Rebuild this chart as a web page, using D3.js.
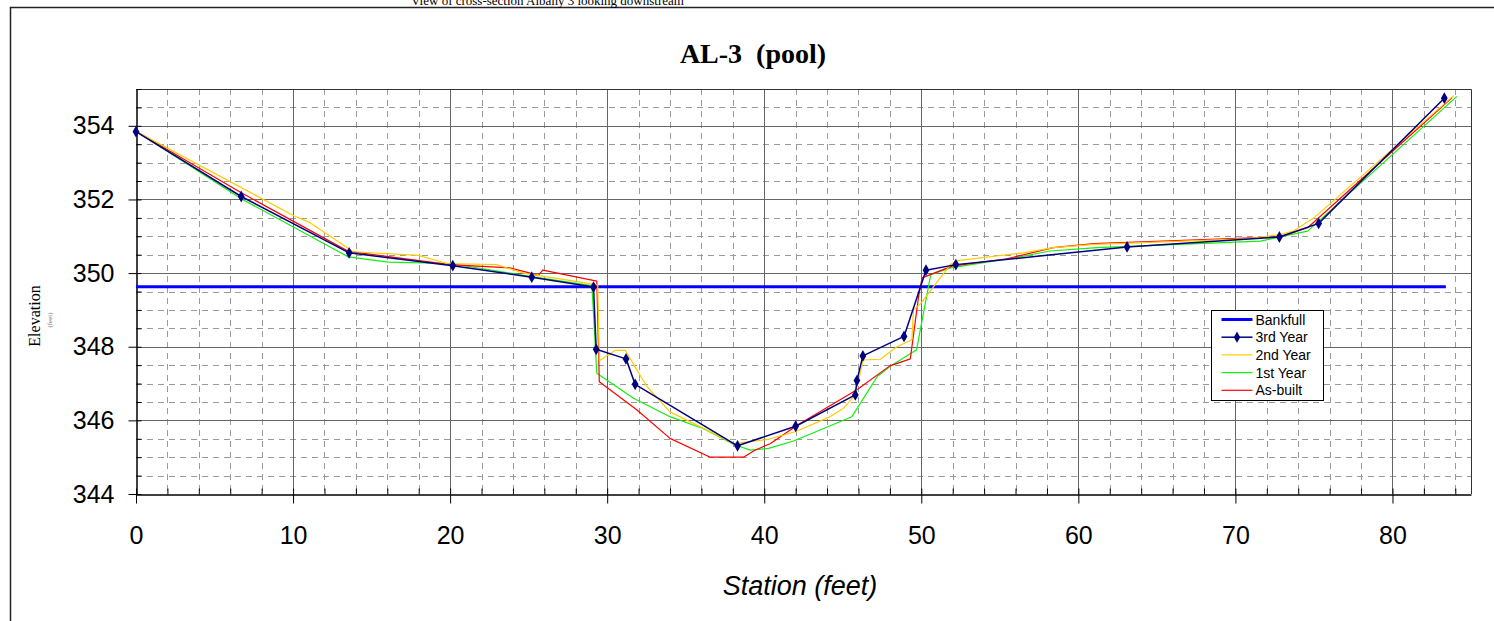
<!DOCTYPE html>
<html lang="en">
<head>
<meta charset="UTF-8">
<title>AL-3 (pool)</title>
<script src="https://cdn.jsdelivr.net/npm/d3@7"></script>
<style>
  body { margin: 0; background: #fff; }
  svg { display: block; }
</style>
</head>
<body>
<div id="chart"></div>
<script>
const bankfullX = [0, 83.4];
const bankfullY = [349.63, 349.63];

const thirdX = [0, 6.7, 13.57, 20.17, 25.2, 29.13, 29.3, 31.2, 31.78, 38.3, 42.0, 45.8, 45.9, 46.28, 48.9, 50.3, 52.2, 63.1, 72.8, 75.3, 83.3];
const thirdY = [353.84, 352.08, 350.55, 350.2, 349.89, 349.62, 347.93, 347.67, 346.98, 345.31, 345.84, 346.69, 347.08, 347.75, 348.28, 350.08, 350.23, 350.71, 350.98, 351.35, 354.75];

const secondX = [0, 10.08, 11.08, 13.84, 17.98, 19.8, 22.97, 24.67, 29.4, 29.5, 30.5, 31.15, 32.53, 34.0, 35.9, 38.05, 40.2, 41.97, 44.1, 45.05, 45.8, 46.3, 47.4, 48.45, 49.4, 49.5, 50.0, 51.85, 52.3, 56.5, 58.4, 61.0, 70.7, 72.9, 73.7, 75.0, 83.9];
const secondY = [353.85, 351.55, 351.37, 350.58, 350.48, 350.26, 350.23, 350.0, 349.68, 347.62, 347.9, 347.9, 346.92, 346.23, 345.83, 345.37, 345.48, 345.69, 346.08, 346.33, 346.69, 347.64, 347.66, 348.0, 348.19, 349.0, 349.19, 350.23, 350.34, 350.55, 350.69, 350.78, 350.93, 351.05, 351.14, 351.5, 354.82];

const firstX = [0, 6.7, 13.52, 16.07, 20.0, 25.1, 29.03, 29.34, 31.68, 34.0, 36.1, 38.05, 39.1, 40.27, 41.87, 45.58, 47.2, 48.0, 49.7, 50.6, 51.85, 55.9, 58.2, 61.2, 71.6, 72.9, 74.6, 84.1];
const firstY = [353.85, 352.02, 350.44, 350.3, 350.26, 349.91, 349.66, 347.28, 346.6, 346.1, 345.78, 345.35, 345.19, 345.24, 345.44, 346.1, 347.19, 347.46, 347.92, 349.96, 350.14, 350.41, 350.6, 350.69, 350.87, 350.99, 351.14, 354.8];

const asBuiltX = [0, 6.62, 13.52, 20.0, 23.8, 25.1, 25.6, 25.9, 29.34, 29.5, 31.9, 34.0, 36.56, 38.68, 39.4, 40.4, 42.1, 45.9, 48.0, 49.3, 49.83, 50.05, 51.95, 55.45, 58.4, 61.0, 72.9, 74.6, 83.8];
const asBuiltY = [353.85, 352.2, 350.59, 350.23, 350.14, 350.0, 349.93, 350.08, 349.78, 347.05, 346.28, 345.51, 345.0, 345.0, 345.19, 345.37, 345.87, 346.83, 347.48, 347.67, 349.37, 349.87, 350.19, 350.39, 350.69, 350.8, 350.99, 351.23, 354.77];

const xTicks = [0, 10, 20, 30, 40, 50, 60, 70, 80];
const yTicks = [344, 346, 348, 350, 352, 354];

const series = [
  { name: "Bankfull", xs: bankfullX, ys: bankfullY, color: "#0000ff", width: 3 },
  { name: "3rd Year", xs: thirdX, ys: thirdY, color: "#000080", width: 1.5, marker: true },
  { name: "2nd Year", xs: secondX, ys: secondY, color: "#ffcc00", width: 1.2 },
  { name: "1st Year", xs: firstX, ys: firstY, color: "#11ee11", width: 1.2 },
  { name: "As-built", xs: asBuiltX, ys: asBuiltY, color: "#ff0000", width: 1.2 }
];
// draw order: older surveys underneath
const drawOrder = ["Bankfull", "1st Year", "As-built", "2nd Year", "3rd Year"];

const W = 1494, H = 621;
const pLeft = 136, pRight = 1471, pTop = 89, pBottom = 494;

const svg = d3.select("#chart").append("svg")
  .attr("width", W)
  .attr("height", H);

// outer frame (top + left only, the rest runs off the page)
svg.append("path")
  .attr("d", `M10.5,${H} V7.5 H${W}`)
  .attr("fill", "none")
  .attr("stroke", "#222")
  .attr("stroke-width", 1.5);

svg.append("text")
  .attr("x", 411)
  .attr("y", 5)
  .style("font-family", "'Liberation Serif', 'Times New Roman', serif")
  .style("font-size", "13px")
  .text("View of cross-section Albany 3 looking downstream");

svg.append("text")
  .attr("x", 753)
  .attr("y", 63)
  .attr("text-anchor", "middle")
  .style("font-family", "'Liberation Serif', 'Times New Roman', serif")
  .style("font-size", "28px")
  .style("font-weight", "bold")
  .style("white-space", "pre")
  .text("AL-3  (pool)");

const x = d3.scaleLinear().domain([0, 85]).range([pLeft, pRight]);
const y = d3.scaleLinear().domain([344, 355]).range([pBottom, pTop]);

// minor dashed grid
const g = svg.append("g");
const minorX = d3.range(2, 85, 2).filter(v => v % 10 !== 0);
const minorY = d3.range(344.5, 355, 0.5).filter(v => v % 2 !== 0);
g.selectAll(".mx").data(minorX).enter().append("line")
  .attr("x1", d => Math.round(x(d)) + 0.5).attr("x2", d => Math.round(x(d)) + 0.5)
  .attr("y1", pTop).attr("y2", pBottom)
  .attr("stroke", "#9a9a9a").attr("stroke-dasharray", "6,5");
g.selectAll(".my").data(minorY).enter().append("line")
  .attr("y1", d => Math.round(y(d)) + 0.5).attr("y2", d => Math.round(y(d)) + 0.5)
  .attr("x1", pLeft).attr("x2", pRight)
  .attr("stroke", "#9a9a9a").attr("stroke-dasharray", "6,5");

// major solid grid
g.selectAll(".gx").data(xTicks.slice(1)).enter().append("line")
  .attr("x1", d => Math.round(x(d)) + 0.5).attr("x2", d => Math.round(x(d)) + 0.5)
  .attr("y1", pTop).attr("y2", pBottom)
  .attr("stroke", "#666");
g.selectAll(".gy").data(yTicks.slice(1)).enter().append("line")
  .attr("y1", d => Math.round(y(d)) + 0.5).attr("y2", d => Math.round(y(d)) + 0.5)
  .attr("x1", pLeft).attr("x2", pRight)
  .attr("stroke", "#666");

// plot border top/right
svg.append("path")
  .attr("d", `M${pLeft},${pTop + 0.5} H${pRight + 0.5} V${pBottom}`)
  .attr("fill", "none")
  .attr("stroke", "#333");

// axes
const tickFont = "'Liberation Sans', Arial, sans-serif";

const yAxis = svg.append("g")
  .attr("transform", `translate(${pLeft + 0.5},0)`)
  .call(d3.axisLeft(y).tickValues(yTicks).tickSizeInner(8).tickSizeOuter(0).tickPadding(14).tickFormat(d3.format("d")));
svg.append("g")
  .attr("transform", `translate(${pLeft + 0.5},0)`)
  .call(d3.axisLeft(y).tickValues(d3.range(344, 355.01, 0.5)).tickSize(-5).tickFormat(""))
  .call(a => a.select(".domain").remove());

const xAxis = svg.append("g")
  .attr("transform", `translate(0,${pBottom + 0.5})`)
  .call(d3.axisBottom(x).tickValues(xTicks).tickSizeInner(9).tickSizeOuter(0).tickPadding(23));
svg.append("g")
  .attr("transform", `translate(0,${pBottom + 0.5})`)
  .call(d3.axisBottom(x).tickValues(d3.range(0, 85.01, 2)).tickSize(-6).tickFormat(""))
  .call(a => a.select(".domain").remove());

svg.selectAll(".tick line").attr("stroke", "#000");
svg.selectAll(".domain").attr("stroke", "#000").attr("stroke-width", 1.5);
[yAxis, xAxis].forEach(a => a.selectAll("text")
  .style("font-family", tickFont)
  .style("font-size", "25px")
  .attr("fill", "#000"));

// axis titles
svg.append("text")
  .attr("transform", "translate(40,316) rotate(-90)")
  .attr("text-anchor", "middle")
  .style("font-family", "'Liberation Serif', 'Times New Roman', serif")
  .style("font-size", "16px")
  .text("Elevation");
svg.append("text")
  .attr("transform", "translate(52,320) rotate(-90)")
  .attr("text-anchor", "middle")
  .style("font-family", "'Liberation Serif', 'Times New Roman', serif")
  .style("font-size", "7px")
  .attr("fill", "#777")
  .text("(feet)");

svg.append("text")
  .attr("x", 800)
  .attr("y", 595)
  .attr("text-anchor", "middle")
  .style("font-family", tickFont)
  .style("font-size", "27px")
  .style("font-style", "italic")
  .text("Station (feet)");

// series
const line = d3.line().x(d => x(d[0])).y(d => y(d[1]));
const plot = svg.append("g");
drawOrder.forEach(name => {
  const s = series.find(d => d.name === name);
  const pts = s.xs.map((v, i) => [v, s.ys[i]]);
  plot.append("path")
    .datum(pts)
    .attr("d", line)
    .attr("fill", "none")
    .attr("stroke", s.color)
    .attr("stroke-width", s.width)
    .attr("stroke-linejoin", "round");
  if (s.marker) {
    plot.selectAll(".pt").data(pts).enter().append("path")
      .attr("d", d3.symbol(d3.symbolDiamond, 40))
      .attr("transform", d => `translate(${x(d[0])},${y(d[1])})`)
      .attr("fill", s.color);
  }
});

// legend
const lg = svg.append("g").attr("transform", "translate(1211.5,310.5)");
lg.append("rect")
  .attr("width", 112).attr("height", 90)
  .attr("fill", "#fff").attr("stroke", "#000");
series.forEach((s, i) => {
  const yy = 9 + i * 17.7;
  lg.append("line")
    .attr("x1", 10).attr("x2", 41).attr("y1", yy).attr("y2", yy)
    .attr("stroke", s.color).attr("stroke-width", s.width);
  if (s.marker) {
    lg.append("path")
      .attr("d", d3.symbol(d3.symbolDiamond, 36))
      .attr("transform", `translate(25.5,${yy})`)
      .attr("fill", s.color);
  }
  lg.append("text")
    .attr("x", 44).attr("y", yy + 5)
    .style("font-family", tickFont)
    .style("font-size", "14px")
    .text(s.name);
});
</script>
</body>
</html>
